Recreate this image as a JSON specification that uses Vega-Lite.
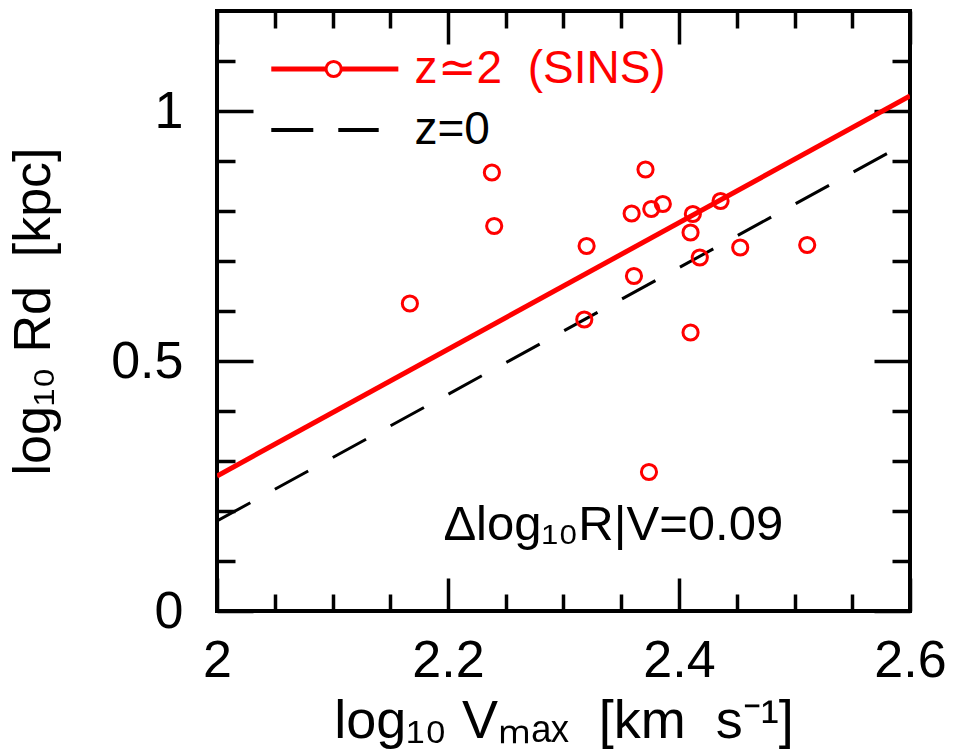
{
  "$schema": "https://vega.github.io/schema/vega-lite/v6.json",
  "width": 693,
  "height": 600,
  "autosize": {"type": "none"},
  "padding": {"left": 217, "top": 11, "right": 43, "bottom": 141},
  "background": "white",
  "config": {
    "view": {"stroke": "black", "strokeWidth": 4},
    "font": "Liberation Sans"
  },
  "datasets": {
    "sins_fit": [{"logV": 2.0, "logR": 0.27}, {"logV": 2.6, "logR": 1.03}],
    "z0_fit": [{"logV": 2.0, "logR": 0.18}, {"logV": 2.6, "logR": 0.94}],
    "sins_points": [
      {"logV": 2.238, "logR": 0.877},
      {"logV": 2.240, "logR": 0.770},
      {"logV": 2.167, "logR": 0.615},
      {"logV": 2.320, "logR": 0.730},
      {"logV": 2.318, "logR": 0.583},
      {"logV": 2.371, "logR": 0.883},
      {"logV": 2.359, "logR": 0.795},
      {"logV": 2.376, "logR": 0.804},
      {"logV": 2.386, "logR": 0.814},
      {"logV": 2.412, "logR": 0.794},
      {"logV": 2.410, "logR": 0.757},
      {"logV": 2.436, "logR": 0.820},
      {"logV": 2.418, "logR": 0.707},
      {"logV": 2.453, "logR": 0.727},
      {"logV": 2.511, "logR": 0.732},
      {"logV": 2.361, "logR": 0.670},
      {"logV": 2.410, "logR": 0.557},
      {"logV": 2.374, "logR": 0.278}
    ],
    "one": [{}]
  },
  "resolve": {"axis": {"x": "independent", "y": "independent"}},
  "layer": [
    {
      "data": {"name": "z0_fit"},
      "mark": {"type": "line", "color": "black", "strokeWidth": 3, "strokeDash": [38, 28], "clip": true},
      "encoding": {
        "x": {"field": "logV", "type": "quantitative",
          "scale": {"domain": [2, 2.6], "nice": false, "zero": false},
          "axis": {"orient": "bottom", "values": [2, 2.2, 2.4, 2.6], "format": "~g",
            "tickSize": -33, "tickWidth": 3.5, "tickColor": "black", "domain": false, "grid": false,
            "labelFont": "Liberation Sans", "labelFontSize": 52, "labelColor": "black", "labelPadding": 57,
            "labelFlush": false, "labelOverlap": false,
            "title": "log₁₀ Vₘₐₓ\u00a0 [km\u00a0 s⁻¹]", "titleFont": "Liberation Sans", "titleFontSize": 54,
            "titleFontWeight": "normal", "titleColor": "black", "titlePadding": 8}},
        "y": {"field": "logR", "type": "quantitative",
          "scale": {"domain": [0, 1.2], "nice": false, "zero": false},
          "axis": {"orient": "left", "values": [0, 0.5, 1], "format": "~g",
            "tickSize": -36, "tickWidth": 3.5, "tickColor": "black", "domain": false, "grid": false,
            "labelFont": "Liberation Sans", "labelFontSize": 52, "labelColor": "black", "labelPadding": 70,
            "labelFlush": false, "labelOverlap": false,
            "title": "log₁₀ Rd\u00a0 [kpc]", "titleFont": "Liberation Sans", "titleFontSize": 52,
            "titleFontWeight": "normal", "titleColor": "black", "titlePadding": 50}}
      }
    },
    {
      "data": {"name": "sins_fit"},
      "mark": {"type": "line", "color": "#ff0000", "strokeWidth": 5, "clip": true},
      "encoding": {
        "x": {"field": "logV", "type": "quantitative",
          "scale": {"domain": [2, 2.6], "nice": false, "zero": false},
          "axis": {"orient": "bottom", "values": [2.05, 2.1, 2.15, 2.25, 2.3, 2.35, 2.45, 2.5, 2.55],
            "tickSize": -17, "tickWidth": 3.5, "tickColor": "black", "domain": false, "grid": false,
            "labels": false, "title": null}},
        "y": {"field": "logR", "type": "quantitative",
          "scale": {"domain": [0, 1.2], "nice": false, "zero": false},
          "axis": {"orient": "left", "values": [0.1, 0.2, 0.3, 0.4, 0.6, 0.7, 0.8, 0.9, 1.1],
            "tickSize": -18, "tickWidth": 3.5, "tickColor": "black", "domain": false, "grid": false,
            "labels": false, "title": null}}
      }
    },
    {
      "data": {"name": "sins_points"},
      "mark": {"type": "point", "shape": "circle", "filled": false, "color": "#ff0000", "strokeWidth": 3, "size": 230, "opacity": 1},
      "encoding": {
        "x": {"field": "logV", "type": "quantitative",
          "scale": {"domain": [2, 2.6], "nice": false, "zero": false},
          "axis": {"orient": "top", "values": [2, 2.2, 2.4, 2.6],
            "tickSize": -33, "tickWidth": 3.5, "tickColor": "black", "domain": false, "grid": false,
            "labels": false, "title": null}},
        "y": {"field": "logR", "type": "quantitative",
          "scale": {"domain": [0, 1.2], "nice": false, "zero": false},
          "axis": {"orient": "right", "values": [0, 0.5, 1],
            "tickSize": -36, "tickWidth": 3.5, "tickColor": "black", "domain": false, "grid": false,
            "labels": false, "title": null}}
      }
    },
    {
      "data": {"name": "one"},
      "mark": {"type": "rule", "color": "#ff0000", "strokeWidth": 5},
      "encoding": {
        "x": {"datum": 2.047, "type": "quantitative",
          "scale": {"domain": [2, 2.6], "nice": false, "zero": false},
          "axis": {"orient": "top", "values": [2.05, 2.1, 2.15, 2.25, 2.3, 2.35, 2.45, 2.5, 2.55],
            "tickSize": -17, "tickWidth": 3.5, "tickColor": "black", "domain": false, "grid": false,
            "labels": false, "title": null}},
        "x2": {"datum": 2.157},
        "y": {"datum": 1.084, "type": "quantitative",
          "scale": {"domain": [0, 1.2], "nice": false, "zero": false},
          "axis": {"orient": "right", "values": [0.1, 0.2, 0.3, 0.4, 0.6, 0.7, 0.8, 0.9, 1.1],
            "tickSize": -18, "tickWidth": 3.5, "tickColor": "black", "domain": false, "grid": false,
            "labels": false, "title": null}}
      }
    },
    {
      "data": {"name": "one"},
      "mark": {"type": "point", "shape": "circle", "filled": true, "fill": "white", "stroke": "#ff0000", "strokeWidth": 3, "size": 230, "opacity": 1},
      "encoding": {
        "x": {"datum": 2.101, "type": "quantitative", "scale": {"domain": [2, 2.6], "nice": false, "zero": false}, "axis": null},
        "y": {"datum": 1.084, "type": "quantitative", "scale": {"domain": [0, 1.2], "nice": false, "zero": false}, "axis": null}
      }
    },
    {
      "data": {"name": "one"},
      "mark": {"type": "text", "text": "z≃2\u00a0\u00a0(SINS)", "color": "#ff0000", "font": "Liberation Sans", "fontSize": 46, "align": "left", "baseline": "middle"},
      "encoding": {
        "x": {"datum": 2.171, "type": "quantitative", "scale": {"domain": [2, 2.6], "nice": false, "zero": false}, "axis": null},
        "y": {"datum": 1.084, "type": "quantitative", "scale": {"domain": [0, 1.2], "nice": false, "zero": false}, "axis": null}
      }
    },
    {
      "data": {"name": "one"},
      "mark": {"type": "rule", "color": "black", "strokeWidth": 4, "strokeDash": [42, 25]},
      "encoding": {
        "x": {"datum": 2.047, "type": "quantitative", "scale": {"domain": [2, 2.6], "nice": false, "zero": false}, "axis": null},
        "x2": {"datum": 2.14},
        "y": {"datum": 0.962, "type": "quantitative", "scale": {"domain": [0, 1.2], "nice": false, "zero": false}, "axis": null}
      }
    },
    {
      "data": {"name": "one"},
      "mark": {"type": "text", "text": "z=0", "color": "black", "font": "Liberation Sans", "fontSize": 46, "align": "left", "baseline": "middle"},
      "encoding": {
        "x": {"datum": 2.171, "type": "quantitative", "scale": {"domain": [2, 2.6], "nice": false, "zero": false}, "axis": null},
        "y": {"datum": 0.962, "type": "quantitative", "scale": {"domain": [0, 1.2], "nice": false, "zero": false}, "axis": null}
      }
    },
    {
      "data": {"name": "one"},
      "mark": {"type": "text", "text": "Δlog₁₀R|V=0.09", "color": "black", "font": "Liberation Sans", "fontSize": 49, "align": "left", "baseline": "alphabetic"},
      "encoding": {
        "x": {"datum": 2.196, "type": "quantitative", "scale": {"domain": [2, 2.6], "nice": false, "zero": false}, "axis": null},
        "y": {"datum": 0.142, "type": "quantitative", "scale": {"domain": [0, 1.2], "nice": false, "zero": false}, "axis": null}
      }
    }
  ]
}
